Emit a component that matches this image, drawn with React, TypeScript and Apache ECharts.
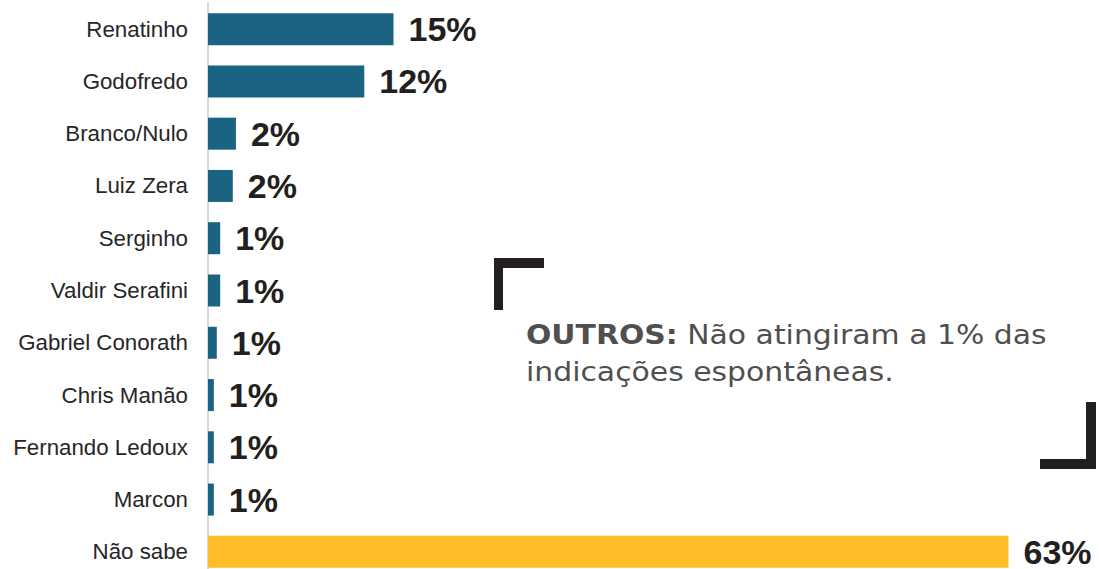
import React, { useEffect, useRef } from "react";
import * as echarts from "echarts";

const categories = [
  "Renatinho",
  "Godofredo",
  "Branco/Nulo",
  "Luiz Zera",
  "Serginho",
  "Valdir Serafini",
  "Gabriel Conorath",
  "Chris Manão",
  "Fernando Ledoux",
  "Marcon",
  "Não sabe",
];
const values = [14.6, 12.3, 2.2, 1.95, 0.96, 0.96, 0.69, 0.46, 0.46, 0.46, 63];
const valueLabels = ["15%", "12%", "2%", "2%", "1%", "1%", "1%", "1%", "1%", "1%", "63%"];
const highlight = "Não sabe";
const noteTitle = "OUTROS:";
const noteLine1 = " Não atingiram a 1% das";
const noteLine2 = "indicações espontâneas.";

const BLUE = "#1b6382";
const YELLOW = "#fcbd27";
const DARK = "#231f20";

export default function App() {
  const ref = useRef<HTMLDivElement>(null);
  useEffect(() => {
    if (!ref.current) return;
    const chart = echarts.init(ref.current, undefined, { renderer: "svg" });
    chart.setOption({
      animation: false,
      grid: { left: 208, right: 90.5, top: 3, bottom: 0, containLabel: false },
      xAxis: {
        type: "value",
        min: 0,
        max: 63,
        show: false,
        splitLine: { show: false },
      },
      yAxis: {
        type: "category",
        inverse: true,
        data: categories,
        axisTick: { show: false },
        axisLine: { show: true, lineStyle: { color: "#d9d9d9", width: 2 } },
        axisLabel: {
          margin: 20,
          fontSize: 22.3,
          color: "#262626",
          fontFamily: "'Liberation Sans', Arial, sans-serif",
        },
      },
      series: [
        {
          type: "bar",
          barWidth: 32,
          data: values.map((v, i) => ({
            value: v,
            itemStyle: { color: categories[i] === highlight ? YELLOW : BLUE },
          })),
          label: {
            show: true,
            position: "right",
            distance: 15,
            formatter: (p: any) => valueLabels[p.dataIndex],
            fontSize: 34,
            lineHeight: 28,
            fontWeight: "bold",
            color: DARK,
            fontFamily: "'Liberation Sans', Arial, sans-serif",
          },
        },
      ],
      graphic: [
        { type: "rect", shape: { x: 494, y: 258, width: 50, height: 10 }, style: { fill: DARK } },
        { type: "rect", shape: { x: 494, y: 258, width: 9, height: 52 }, style: { fill: DARK } },
        { type: "rect", shape: { x: 1040, y: 459, width: 56, height: 10 }, style: { fill: DARK } },
        { type: "rect", shape: { x: 1086, y: 402, width: 10, height: 67 }, style: { fill: DARK } },
        {
          type: "text",
          x: 526,
          y: 317,
          scaleX: 1.148,
          style: {
            text: "{b|" + noteTitle + "}" + noteLine1 + "\n" + noteLine2,
            fill: "#4f4f4f",
            fontSize: 26,
            fontFamily: "'DejaVu Sans', sans-serif",
            lineHeight: 37,
            align: "left",
            verticalAlign: "top",
            rich: {
              b: {
                fontSize: 26,
                fontWeight: "bold",
                fontFamily: "'DejaVu Sans', sans-serif",
                fill: "#4f4f4f",
                lineHeight: 37,
              },
            },
          },
        },
      ],
    });
    return () => chart.dispose();
  }, []);
  return (
    <div
      style={{
        position: "absolute",
        left: 0,
        top: 0,
        width: 1099,
        height: 569,
        overflow: "hidden",
      }}
    >
      <div ref={ref} style={{ width: 1099, height: 578 }} />
    </div>
  );
}
